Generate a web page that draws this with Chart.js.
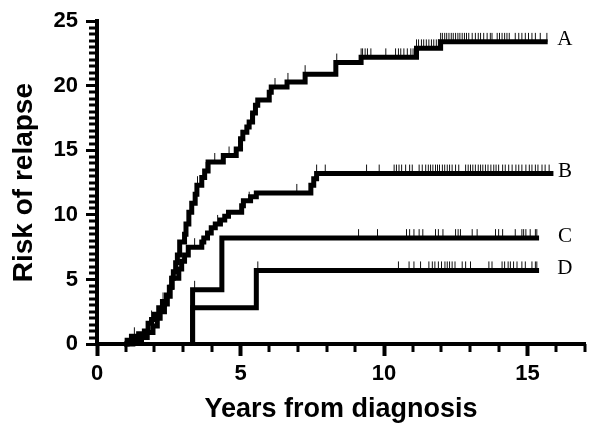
<!DOCTYPE html>
<html>
<head>
<meta charset="utf-8">
<script src="https://cdn.jsdelivr.net/npm/chart.js@4/dist/chart.umd.min.js"></script>
<style>
  html, body { margin: 0; padding: 0; background: #fff; }
  #wrap { width: 600px; height: 429px; }
</style>
</head>
<body>
<div id="wrap"><canvas id="riskChart"></canvas></div>
<script>
// Cumulative risk of relapse (%) - step curves, value holds from each time on
const timesA = [0.95, 1.05, 1.2, 1.45, 1.65, 1.78, 1.9, 2.0, 2.15, 2.28, 2.42, 2.52, 2.6, 2.66, 2.74, 2.8, 2.88,
    3.05, 3.1, 3.2, 3.3, 3.42, 3.48, 3.65, 3.75, 3.87, 4.4, 4.85, 5.0, 5.08, 5.22, 5.3, 5.42, 5.52, 5.6,
    6.0, 6.07, 6.62, 7.25, 8.32, 9.2, 11.13, 11.97, 15.7];
const riskA = [0, 0.3, 0.6, 0.8, 1.0, 1.6, 1.9, 2.3, 2.8, 3.3, 3.8, 4.4, 5.1, 5.6, 6.3, 6.9, 7.9,
    8.5, 9.3, 10.2, 10.9, 11.6, 12.3, 12.9, 13.4, 14.1, 14.6, 15.1, 15.9, 16.4, 16.8, 17.2, 17.9, 18.5, 18.9,
    19.5, 19.9, 20.3, 20.9, 21.8, 22.2, 22.9, 23.4, 23.4];

const timesB = [0.95, 1.25, 1.55, 1.75, 1.95, 2.1, 2.2, 2.35, 2.45, 2.55, 2.62, 2.85, 2.95, 3.05, 3.18,
    3.65, 3.72, 3.85, 3.98, 4.12, 4.3, 4.45, 4.58, 5.04, 5.1, 5.35, 5.55, 7.45, 7.55, 7.65, 15.9];
const riskB = [0, 0.3, 0.5, 0.9, 1.4, 2.0, 2.5, 3.1, 3.7, 4.4, 5.1, 5.8, 6.4, 6.9, 7.5,
    7.9, 8.2, 8.6, 9.0, 9.3, 9.6, 9.9, 10.2, 10.7, 11.1, 11.4, 11.7, 12.3, 12.8, 13.2, 13.2];

const timesC = [3.33, 3.33, 4.35, 15.4];
const riskC = [0, 4.2, 8.2, 8.2];

const timesD = [3.33, 3.33, 5.55, 15.4];
const riskD = [0, 2.8, 5.7, 5.7];

// censoring marks (years)
const censorA = [1.3, 1.9, 2.3, 2.55, 3.5, 3.8, 4.1, 4.6, 5.05, 5.35, 6.2, 6.65, 7.25, 8.35,
    9.2, 9.25, 9.34, 9.42, 9.54, 10.06, 10.4, 10.5, 10.58, 10.69, 10.81, 10.93, 11.01,
    11.13, 11.2, 11.3, 11.38, 11.47, 11.56, 11.65, 11.73, 11.82, 11.89,
    11.97, 12.03, 12.11, 12.18, 12.26, 12.34, 12.41, 12.49, 12.57, 12.64, 12.72, 12.8, 12.87, 12.95,
    13.07, 13.18, 13.28, 13.36, 13.47, 13.59, 13.7, 13.76, 13.94, 14.02, 14.11, 14.2, 14.28, 14.36,
    14.57, 14.69, 14.8, 14.92, 15.03, 15.15, 15.27, 15.44, 15.67];
const censorB = [2.8, 3.4, 4.2, 5.3, 6.96, 7.65, 7.95, 9.39, 9.83, 10.35, 10.43, 10.52, 10.61, 10.75,
    10.89, 10.98, 11.22, 11.33, 11.45, 11.54, 11.62, 11.7, 11.79, 11.86, 11.93, 12.03, 12.11, 12.2,
    12.28, 12.37, 12.49, 12.6, 12.84, 12.93, 13.01, 13.09, 13.18, 13.28, 13.36, 13.44, 13.53, 13.62,
    13.72, 13.82, 13.9, 13.99, 14.13, 14.22, 14.34, 14.46, 14.59, 14.69, 14.8, 14.94, 15.06, 15.15,
    15.27, 15.36, 15.5, 15.61, 15.75];
const censorC = [3.4, 9.11, 9.77, 10.78, 10.89, 11.04, 11.22, 11.35, 11.79, 11.89, 12.05, 12.49, 12.58,
    12.66, 13.07, 13.24, 13.88, 13.99, 14.13, 14.57, 14.8, 14.86, 14.94, 15.09, 15.27, 15.32];
const censorD = [5.6, 10.5, 10.87, 11.04, 11.27, 11.56, 11.68, 11.77, 11.89, 12.0, 12.12, 12.2, 12.28,
    12.37, 12.47, 12.72, 12.84, 13.01, 13.65, 13.76, 14.11, 14.2, 14.32, 14.4, 14.51, 14.63, 14.8,
    14.92, 15.15, 15.27, 15.32];

const curveNames = ['A', 'B', 'C', 'D'];
const xTickValues = [0, 5, 10, 15];
const yTickValues = [0, 5, 10, 15, 20, 25];
const xMax = 17;
const yMax = 25;
const labelX = 16.3;

const curves = [
    { name: curveNames[0], times: timesA, risk: riskA, censor: censorA },
    { name: curveNames[1], times: timesB, risk: riskB, censor: censorB },
    { name: curveNames[2], times: timesC, risk: riskC, censor: censorC },
    { name: curveNames[3], times: timesD, risk: riskD, censor: censorD }
];

// value of a step curve at time t
function levelAt(times, risk, t) {
    let v = risk[0];
    for (let i = 0; i < times.length; i++) {
        if (times[i] <= t) v = risk[i];
    }
    return v;
}

// small vertical tick sitting on top of the line
function censorMark() {
    const c = document.createElement('canvas');
    c.width = 3;
    c.height = 20;
    const g = c.getContext('2d');
    g.fillStyle = '#111';
    g.fillRect(1, 1, 1, 9);
    return c;
}
const mark = censorMark();

const datasets = [];
curves.forEach(c => {
    datasets.push({
        type: 'line',
        label: c.name,
        data: c.times.map((t, i) => ({ x: t, y: c.risk[i] })),
        stepped: true,
        borderColor: '#000',
        borderWidth: 5,
        borderJoinStyle: 'miter',
        pointRadius: 0,
        fill: false,
        clip: false
    });
    datasets.push({
        type: 'scatter',
        label: c.name + ' censored',
        data: c.censor.map(t => ({ x: t, y: levelAt(c.times, c.risk, t) })),
        pointStyle: mark,
        pointRadius: 3,
        clip: false
    });
});

// minor ticks: every year on x, every 0.5 on y
const minorTicks = {
    id: 'minorTicks',
    afterDraw(chart) {
        const { ctx, scales: { x, y } } = chart;
        ctx.save();
        ctx.strokeStyle = '#000';
        ctx.lineWidth = 3;
        ctx.beginPath();
        for (let v = 1; v <= xMax; v += 1) {
            if (v % 5 === 0) continue;
            const px = Math.round(x.getPixelForValue(v));
            ctx.moveTo(px, y.bottom);
            ctx.lineTo(px, y.bottom + 8);
        }
        for (let v = 0.5; v < yMax; v += 0.5) {
            if (v % 5 === 0) continue;
            const py = Math.round(y.getPixelForValue(v));
            ctx.moveTo(x.left - 8, py);
            ctx.lineTo(x.left, py);
        }
        ctx.stroke();
        ctx.restore();
    }
};

const curveTags = {
    id: 'curveTags',
    afterDatasetsDraw(chart) {
        const { ctx, scales: { x, y } } = chart;
        ctx.save();
        ctx.font = '21px "Liberation Serif", "Times New Roman", serif';
        ctx.fillStyle = '#000';
        ctx.textAlign = 'center';
        ctx.textBaseline = 'middle';
        curves.forEach(c => {
            const last = c.risk[c.risk.length - 1];
            ctx.fillText(c.name, x.getPixelForValue(labelX), y.getPixelForValue(last) - 2);
        });
        ctx.restore();
    }
};

const tickFont = { family: '"Liberation Sans", Arial, sans-serif', size: 22, weight: 'bold' };
const xTitleFont = { family: '"Liberation Sans", Arial, sans-serif', size: 27, weight: 'bold' };
const yTitleFont = { family: '"Liberation Sans", Arial, sans-serif', size: 28, weight: 'bold' };

new Chart(document.getElementById('riskChart'), {
    data: { datasets: datasets },
    options: {
        responsive: true,
        maintainAspectRatio: false,
        animation: false,
        layout: { padding: { top: 18, right: 15, bottom: 0, left: 0 } },
        plugins: {
            legend: { display: false },
            tooltip: { enabled: false }
        },
        scales: {
            x: {
                type: 'linear',
                min: 0,
                max: xMax,
                afterBuildTicks: s => { s.ticks = xTickValues.map(v => ({ value: v })); },
                afterFit: s => { s.height = 85; },
                border: { display: true, color: '#000', width: 4 },
                grid: { drawOnChartArea: false, drawTicks: true, tickLength: 12, tickWidth: 4, tickColor: '#000' },
                ticks: { color: '#000', font: tickFont, padding: 5, maxRotation: 0 },
                title: { display: true, text: 'Years from diagnosis', color: '#000', font: xTitleFont, padding: { top: 0, bottom: 3 } }
            },
            y: {
                type: 'linear',
                min: 0,
                max: yMax,
                afterBuildTicks: s => { s.ticks = yTickValues.map(v => ({ value: v })); },
                afterFit: s => { s.width = 97; },
                border: { display: true, color: '#000', width: 4 },
                grid: { drawOnChartArea: false, drawTicks: true, tickLength: 11, tickWidth: 3, tickColor: '#000' },
                ticks: { color: '#000', font: tickFont, padding: 8 },
                title: { display: true, text: 'Risk of relapse', color: '#000', font: yTitleFont, padding: { top: 7, bottom: 0 } }
            }
        }
    },
    plugins: [minorTicks, curveTags]
});
</script>
</body>
</html>
